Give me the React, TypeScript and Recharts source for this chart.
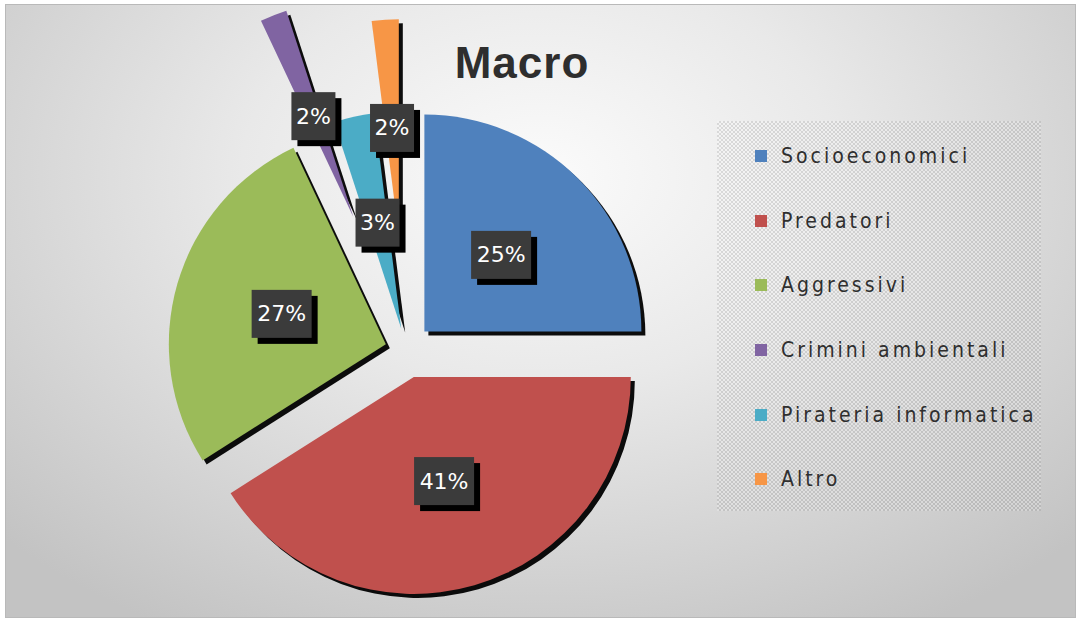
import React from 'react'
import { PieChart, Pie, Cell, Legend } from 'recharts'

const categories = ['Socioeconomici', 'Predatori', 'Aggressivi', 'Crimini ambientali', 'Pirateria informatica', 'Altro']
const values = [25, 41, 27, 2, 3, 2]
const colors = ['#4f81bd', '#c0504d', '#9bbb59', '#8064a2', '#4bacc6', '#f79646']
// how far each slice is pulled out of the pie (px)
const explode = [26, 28, 21, 143, 22, 114]

const data = categories.map((name, i) => ({ name, value: values[i] }))

const W = 1071
const H = 614
const CX = 400
const CY = 345
const R = 217
const RADIAN = Math.PI / 180
const total = values.reduce((a, b) => a + b, 0)

// pie goes clockwise from 12 o'clock, angle in recharts (math) convention
const midAngle = (i: number) => {
  const before = values.slice(0, i).reduce((a, b) => a + b, 0)
  return 90 - ((before + values[i] / 2) / total) * 360
}

const renderLabel = (p: any) => {
  const i = p.index
  const dist = explode[i] + p.outerRadius * 0.5
  const x = p.cx + dist * Math.cos(-p.midAngle * RADIAN)
  const y = p.cy + dist * Math.sin(-p.midAngle * RADIAN)
  const txt = `${values[i]}%`
  const w = txt.length * 16 + 12
  const h = 48
  return (
    <g key={`lbl-${i}`}>
      <rect x={x - w / 2 + 6} y={y - h / 2 + 6} width={w} height={h} fill="#000" />
      <rect x={x - w / 2} y={y - h / 2} width={w} height={h} fill="#3b3b3b" />
      <text x={x} y={y} fill="#fff" textAnchor="middle" dominantBaseline="central"
        style={{ fontFamily: 'DejaVu Sans', fontSize: 22 }}>
        {txt}
      </text>
    </g>
  )
}

const renderLegend = () => (
  <div style={{
    width: 324, height: 390, boxSizing: 'border-box', paddingTop: 3,
    backgroundImage: 'repeating-conic-gradient(rgba(110,110,110,0.18) 0% 25%, rgba(255,255,255,0.22) 0% 50%)',
    backgroundSize: '4px 4px',
  }}>
    {categories.map((c, i) => (
      <div key={c} style={{ height: 64.6, display: 'flex', alignItems: 'center' }}>
        <span style={{ width: 12, height: 12, background: colors[i], marginLeft: 38, marginRight: 14 }} />
        <span style={{ fontFamily: '"DejaVu Sans Condensed", "DejaVu Sans"', fontSize: 21, letterSpacing: 3, color: '#2f2f2f' }}>
          {c}
        </span>
      </div>
    ))}
  </div>
)

export default function App() {
  return (
    <div style={{
      position: 'absolute', left: 5, top: 4, width: W, height: H,
      border: '1px solid #b9b9b9', boxSizing: 'border-box',
      background: 'radial-gradient(ellipse 70% 85% at 50% 28%, #fbfbfb 0%, #e9e9e9 40%, #c3c3c3 100%)',
    }}>
      <style>{`.slice .recharts-pie-sector { filter: drop-shadow(4px 4px 0.6px rgba(0,0,0,0.95)); }`}</style>
      <div style={{
        position: 'absolute', left: 416, top: 36, width: 200, textAlign: 'center',
        fontFamily: '"Liberation Sans", Arial', fontWeight: 'bold', fontSize: 44, lineHeight: '44px',
        letterSpacing: 1, color: '#2e2e2e', zIndex: 2,
      }}>
        Macro
      </div>
      <PieChart width={W - 2} height={H - 2} margin={{ top: 0, right: 0, bottom: 0, left: 0 }}>
        {values.map((_, k) => {
          const a = midAngle(k) * RADIAN
          return (
            <Pie key={k} className="slice" data={data} dataKey="value" nameKey="name"
              cx={CX + explode[k] * Math.cos(a)} cy={CY - explode[k] * Math.sin(a)}
              outerRadius={R} startAngle={90} endAngle={-270} stroke="none"
              label={false} labelLine={false} legendType="none" isAnimationActive={false}>
              {data.map((d, i) => (
                <Cell key={d.name} fill={i === k ? colors[i] : 'none'} />
              ))}
            </Pie>
          )
        })}
        {/* labels on top of every slice */}
        <Pie data={data} dataKey="value" nameKey="name" cx={CX} cy={CY} outerRadius={R}
          startAngle={90} endAngle={-270} stroke="none" fill="none"
          label={renderLabel} labelLine={false} legendType="none" isAnimationActive={false}>
          {data.map(d => (
            <Cell key={d.name} fill="none" />
          ))}
        </Pie>
        <Legend content={renderLegend} wrapperStyle={{ left: 711, top: 116, width: 324, height: 390, bottom: 'auto' }} />
      </PieChart>
    </div>
  )
}
